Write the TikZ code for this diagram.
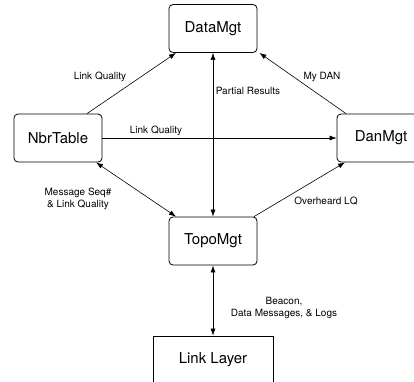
\documentclass[tikz,border=0pt]{standalone}
\usepackage{fontspec}
\setmainfont{TeX Gyre Heros}
\usetikzlibrary{arrows.meta}

\begin{document}
\begin{tikzpicture}[x=1pt, y=1pt,
  module/.style={draw, rounded corners=4pt, line width=0.8pt,
    minimum width=88pt, minimum height=48pt, font=\fontsize{15}{18}\selectfont},
  layer/.style={module, rounded corners=0pt, minimum width=120pt},
  msg/.style={font=\fontsize{10}{11.5}\selectfont, align=center, inner sep=0pt},
  flow/.style={->, >={Latex[length=7pt,width=5pt]}, line width=0.6pt}
]
\useasboundingbox (0,0) rectangle (414,381);

% Modules
\node [module] (data) at (213,352.5) {DataMgt};
\node [module] (nbr)  at (58,243)    {NbrTable};
\node [module] (dan)  at (381,243)   {DanMgt};
\node [module] (topo) at (213,140)   {TopoMgt};
\node [layer]  (link) at (213,21)    {Link Layer};

% Connectors between modules
\draw [flow] ([xshift=29pt]nbr.north) -- ([xshift=-37pt]data.south);
\draw [flow] ([xshift=-35pt]dan.north) -- ([xshift=2pt]data.south east);
\draw [flow] (nbr.east) -- (dan.west);
\draw [flow, <->] (data.south) -- (topo.north);
\draw [flow, <->] ([xshift=38pt]nbr.south) -- ([xshift=-37pt]topo.north);
\draw [flow] ([xshift=41pt]topo.north) -- ([xshift=-36pt]dan.south);
\draw [flow, <->] (topo.south) -- (link.north);

% Message labels
\node [msg] (lqtop)   at (100,304) {Link Quality};
\node [msg] (partial) at (248,290) {Partial Results};
\node [msg] (mydan)   at (322,304) {My DAN};
\node [msg] (lqmid)   at (156,250) {Link Quality};
\node [msg] (seq)     at (78,182)  {Message Seq\#\\\& Link Quality};
\node [msg] (over)    at (326,180) {Overheard LQ};
\node [msg] (beacon)  at (284,73)  {Beacon,\\Data Messages, \& Logs};

\end{tikzpicture}
\end{document}
